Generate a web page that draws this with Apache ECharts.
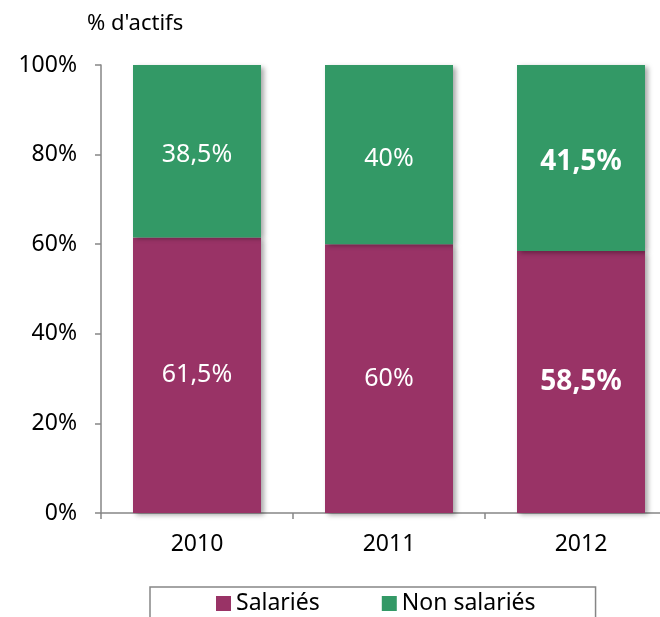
<!DOCTYPE html>
<html>
<head>
<meta charset="utf-8">
<script src="https://cdn.jsdelivr.net/npm/echarts@6/dist/echarts.min.js"></script>
<style>
  html, body { margin: 0; padding: 0; background: #fff; }
  #chart { width: 660px; height: 617px; }
</style>
</head>
<body>
<div id="chart"></div>
<script>
const years = ['2010', '2011', '2012']
const salaries = [61.5, 60, 58.5]
const nonSalaries = [38.5, 40, 41.5]
const yTicks = [0, 20, 40, 60, 80, 100]

const font = 'Noto Sans'
const axisGrey = '#868686'
const shadow = {
  shadowColor: 'rgba(0,0,0,0.35)',
  shadowBlur: 5,
  shadowOffsetX: 3,
  shadowOffsetY: 2
}

// valeurs affichées avec virgule, 2012 en gras
function barLabel(params) {
  const txt = String(params.value).replace('.', ',') + '%'
  return params.dataIndex === 2 ? '{b|' + txt + '}' : txt
}

const chart = echarts.init(document.getElementById('chart'))

chart.setOption({
  animation: false,
  textStyle: { fontFamily: font },
  title: {
    text: "% d'actifs",
    left: 82,
    top: 8,
    textStyle: { fontFamily: font, fontSize: 22, fontWeight: 'normal', color: '#000' }
  },
  legend: {
    left: 150,
    top: 587,
    padding: [5, 60, 30, 66],
    borderColor: axisGrey,
    borderWidth: 1.5,
    itemWidth: 15,
    itemHeight: 15,
    itemGap: 62,
    icon: 'rect',
    textStyle: { fontFamily: font, fontSize: 23, color: '#000' },
    data: ['Salariés', 'Non salariés']
  },
  grid: {
    left: 101,
    top: 65,
    width: 576,
    height: 448,
    outerBoundsMode: 'none'
  },
  xAxis: {
    type: 'category',
    data: years,
    axisLine: { lineStyle: { color: axisGrey, width: 1.5 } },
    axisTick: { show: true, length: 6, lineStyle: { color: axisGrey, width: 1.5 } },
    axisLabel: { fontFamily: font, fontSize: 23, color: '#000', margin: 20 }
  },
  yAxis: {
    type: 'value',
    min: yTicks[0],
    max: yTicks[yTicks.length - 1],
    interval: yTicks[1] - yTicks[0],
    splitLine: { show: false },
    axisLine: { show: true, lineStyle: { color: axisGrey, width: 1.5 } },
    axisTick: { show: true, length: 6, lineStyle: { color: axisGrey, width: 1.5 } },
    axisLabel: { fontFamily: font, fontSize: 23, color: '#000', margin: 24, formatter: '{value}%' }
  },
  series: [
    {
      name: 'Salariés',
      type: 'bar',
      stack: 'total',
      barWidth: 128,
      data: salaries,
      itemStyle: Object.assign({ color: '#993366' }, shadow),
      label: {
        show: true,
        position: 'inside',
        color: '#fff',
        fontFamily: font,
        fontSize: 25,
        formatter: barLabel,
        rich: { b: { fontFamily: font, fontSize: 28, fontWeight: 'bold', color: '#fff' } }
      }
    },
    {
      name: 'Non salariés',
      type: 'bar',
      stack: 'total',
      barWidth: 128,
      data: nonSalaries,
      itemStyle: Object.assign({ color: '#339966' }, shadow),
      label: {
        show: true,
        position: 'inside',
        offset: [0, 4],
        color: '#fff',
        fontFamily: font,
        fontSize: 25,
        formatter: barLabel,
        rich: { b: { fontFamily: font, fontSize: 28, fontWeight: 'bold', color: '#fff' } }
      }
    }
  ]
})
</script>
</body>
</html>
